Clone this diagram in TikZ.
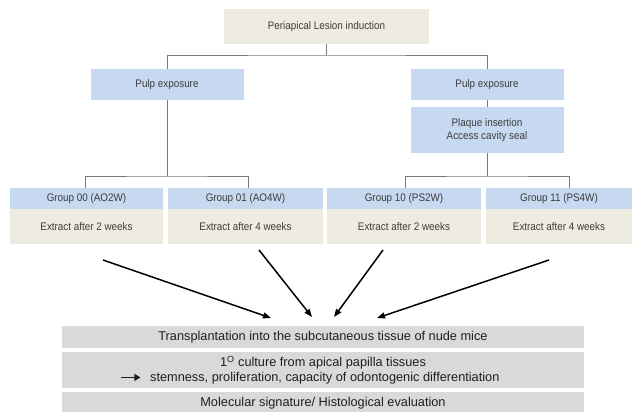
\documentclass[tikz,border=0pt]{standalone}
\usepackage{fontspec}
\setmainfont{Liberation Sans}
\newfontfamily\narrowfont[FakeStretch=0.9]{Liberation Sans}
\usepackage{xcolor}
\usetikzlibrary{arrows.meta,positioning,calc}

\definecolor{boxbeige}{RGB}{238,236,225}
\definecolor{boxblue}{RGB}{198,217,241}
\definecolor{boxgray}{RGB}{217,217,217}
\definecolor{linegray}{RGB}{120,120,120}
\definecolor{txtgray}{RGB}{60,60,60}

\tikzset{%
    stepbox/.style = { inner sep=0pt, outer sep=0pt, align=center, text=txtgray, font=\narrowfont\fontsize{11}{12.5}\selectfont },
   beigebox/.style = { stepbox, fill=boxbeige },
    bluebox/.style = { stepbox, fill=boxblue },
    graybox/.style = { inner sep=0pt, outer sep=0pt, align=center, fill=boxgray, text=black!88, minimum width=522bp, font=\fontsize{12.8}{15}\selectfont },
       link/.style = { linegray, line width=0.9bp },
       flow/.style = { black, line width=1.5bp, -{Triangle[length=8bp,width=6bp]} }
}
\newcommand{\boldarrow}{\tikz[baseline=-0.6ex]\draw[line width=1.6bp,-{Triangle[length=6bp,width=7bp]}] (0,0) -- (19bp,0);}

\begin{document}
\begin{tikzpicture}[x=1bp,y=-1bp]
\useasboundingbox (0,0) rectangle (634,411);
% lesion induction
\node[beigebox, minimum width=205bp, minimum height=35bp] (lesion) at (326.5,26.5) {Periapical Lesion induction};
\node[bluebox, minimum width=153bp, minimum height=31bp] (pulpL) at (167,84.5) {Pulp exposure};
\node[bluebox, minimum width=153bp, minimum height=31bp] (pulpR) at (487,84.5) {Pulp exposure};
\node[bluebox, minimum width=153bp, minimum height=46bp, below=7bp of pulpR] (plaque) {Plaque insertion\\Access cavity seal};
% groups
\node[bluebox, minimum width=153bp, minimum height=21bp] (grp1) at (86.5,198.5) {Group 00 (AO2W)};
\node[bluebox, minimum width=155bp, minimum height=21bp] (grp2) at (245.5,198.5) {Group 01 (AO4W)};
\node[bluebox, minimum width=154bp, minimum height=21bp] (grp3) at (404,198.5) {Group 10 (PS2W)};
\node[bluebox, minimum width=146bp, minimum height=21bp] (grp4) at (559,198.5) {Group 11 (PS4W)};
\node[beigebox, minimum width=153bp, minimum height=35bp, below=0pt of grp1] (ext1) {Extract after 2 weeks};
\node[beigebox, minimum width=155bp, minimum height=35bp, below=0pt of grp2] (ext2) {Extract after 4 weeks};
\node[beigebox, minimum width=154bp, minimum height=35bp, below=0pt of grp3] (ext3) {Extract after 2 weeks};
\node[beigebox, minimum width=146bp, minimum height=35bp, below=0pt of grp4] (ext4) {Extract after 4 weeks};
% tree lines
\coordinate (split) at (326.5,55);
\coordinate (footA) at (85,188);
\coordinate (footB) at (248,188);
\coordinate (footC) at (405,188);
\coordinate (footD) at (569,188);
\draw[link] (lesion.south) -- (split);
\draw[link] (pulpL.north) |- (split) -| (pulpR.north);
\draw[link] (pulpR.south) -- (plaque.north);
\draw[link] (pulpL.south) -- (pulpL.south |- 0,176);
\draw[link] (footA) |- (pulpL.south |- 0,176) -| (footB);
\draw[link] (plaque.south) -- (plaque.south |- 0,176);
\draw[link] (footC) |- (plaque.south |- 0,176) -| (footD);
% evaluation
\node[graybox, minimum height=22bp] (transpl) at (323,337) {Transplantation into the subcutaneous tissue of nude mice};
\node[graybox, minimum height=36bp, below=4bp of transpl] (culture) {1\textsuperscript{O} culture from apical papilla tissues\\\boldarrow\hspace{9bp}stemness, proliferation, capacity of odontogenic differentiation\hspace*{26bp}};
\node[graybox, minimum height=22bp, below=4bp of culture] (signature) {Molecular signature/ Histological evaluation};
\coordinate (s1) at (103,260);
\coordinate (s2) at (259,250);
\coordinate (s3) at (383,250);
\coordinate (s4) at (549,260);
\coordinate (t1) at (271,318);
\coordinate (t2) at (312,317);
\coordinate (t3) at (334,317);
\coordinate (t4) at (377,318);
\draw[flow] (s1) -- (t1);
\draw[flow] (s2) -- (t2);
\draw[flow] (s3) -- (t3);
\draw[flow] (s4) -- (t4);
\end{tikzpicture}
\end{document}
